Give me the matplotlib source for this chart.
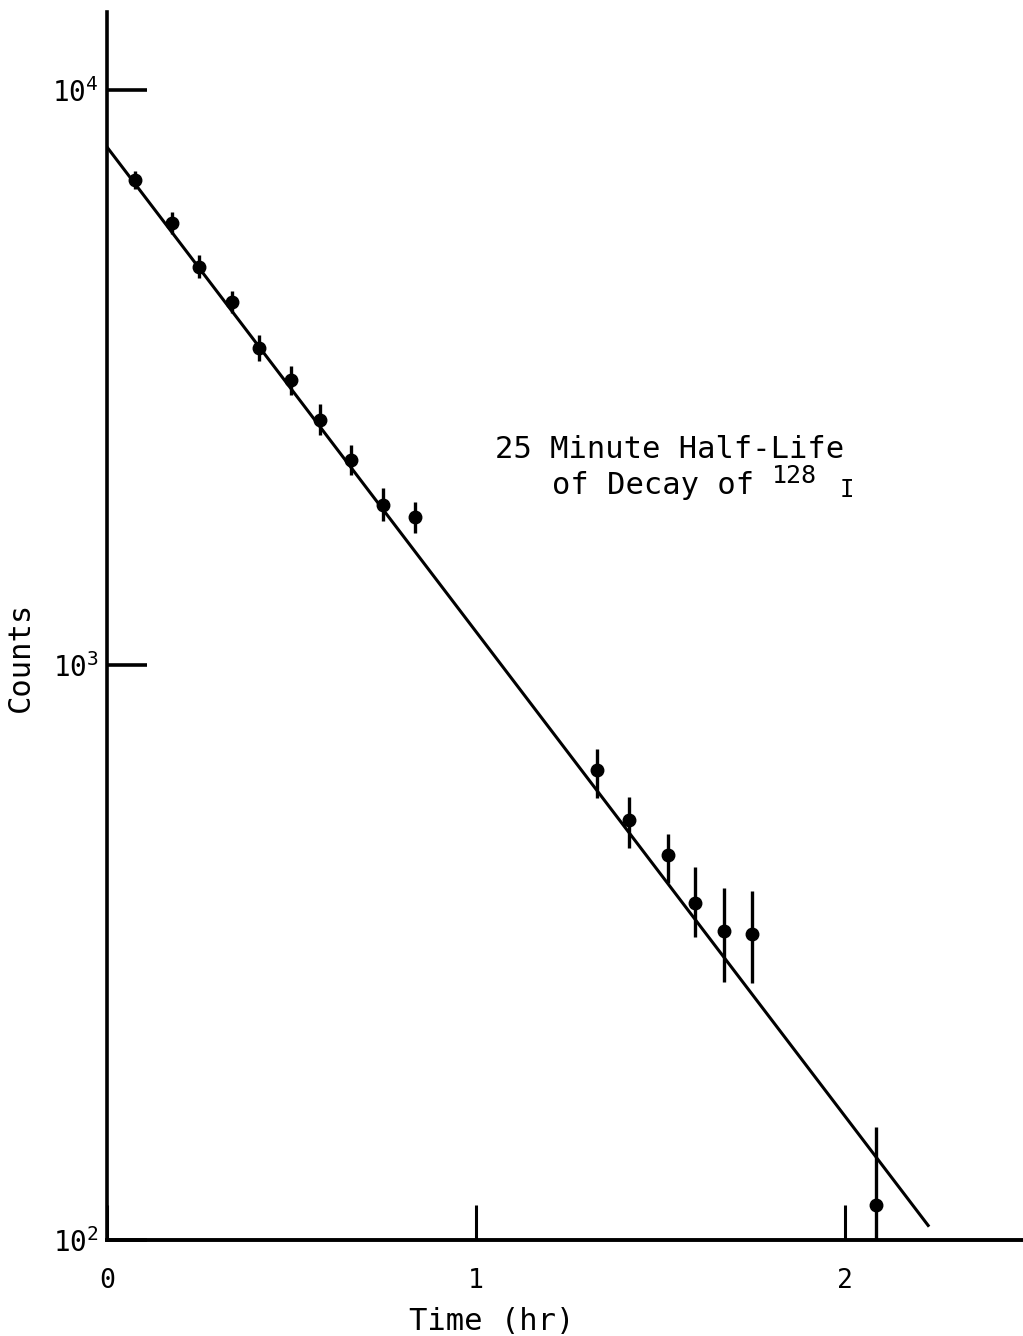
import numpy as np
import matplotlib
matplotlib.use("Agg")
import matplotlib.pyplot as plt

time_hr = [0.076, 0.176, 0.249, 0.339, 0.412, 0.499, 0.577, 0.661, 0.748, 0.835,
           1.327, 1.415, 1.521, 1.592, 1.672, 1.749, 2.084]
counts = [6970, 5870, 4925, 4280, 3560, 3130, 2670, 2273, 1898, 1808,
          658, 538, 467, 386, 345, 340, 115]
counts_low = [6723, 5617, 4703, 4096, 3380, 2953, 2509, 2140, 1777, 1699,
              587, 480, 417, 337, 281, 280, 95]
counts_high = [7226, 6134, 5157, 4473, 3750, 3317, 2841, 2414, 2028, 1924,
               714, 589, 508, 446, 409, 405, 157]

# fitted decay line end points
fit_t = [0.0, 2.225]
fit_counts = [7960, 106]

mono = "DejaVu Sans Mono"
plt.rcParams["font.family"] = mono
plt.rcParams["mathtext.fontset"] = "custom"
plt.rcParams["mathtext.rm"] = mono
plt.rcParams["mathtext.it"] = mono

W, H = 1023, 1336
fig = plt.figure(figsize=(W / 100, H / 100), dpi=100)


def fx(px):
    return px / W


def fy(py):
    return 1 - py / H


ax = fig.add_axes([fx(107), fy(1240), fx(1023) - fx(107), fy(12) - fy(1240)])

c = np.array(counts)
yerr = [c - np.array(counts_low), np.array(counts_high) - c]
ax.errorbar(time_hr, counts, yerr=yerr, fmt="o", color="black", ms=9,
            elinewidth=2.4, capsize=0, clip_on=True, zorder=3)
ax.plot(fit_t, fit_counts, color="black", lw=2.2)

ax.set_yscale("log")
ax.set_xlim(0, 2.482)
ax.set_ylim(100, 13670)

for s in ["top", "right"]:
    ax.spines[s].set_visible(False)
ax.spines["left"].set_linewidth(2.6)
ax.spines["bottom"].set_linewidth(2.8)

ax.set_xticks([0, 1, 2])
ax.set_xticklabels(["0", "1", "2"])
ax.set_yticks([100, 1000, 10000])
ax.set_yticklabels([r"$10^{2}$", r"$10^{3}$", r"$10^{4}$"])
ax.minorticks_off()
ax.tick_params(axis="x", direction="in", length=25, width=2.2, pad=20,
               labelsize=19)
ax.tick_params(axis="y", direction="in", length=29, width=2.6, pad=6,
               labelsize=20)

fig.text(fx(492), fy(1322), "Time (hr)", fontsize=22, ha="center", va="center")
fig.text(fx(20), fy(657), "Counts", fontsize=22, rotation=90,
         ha="center", va="center")

fig.text(fx(495), fy(450), "25 Minute Half-Life", fontsize=22,
         ha="left", va="center")
fig.text(fx(552), fy(485), "of Decay of", fontsize=22, ha="left", va="center")
fig.text(fx(772), fy(476), "128", fontsize=18, ha="left", va="center")
fig.text(fx(840), fy(490), "I", fontsize=17, ha="left", va="center")

fig.savefig("out.png", dpi=100)
